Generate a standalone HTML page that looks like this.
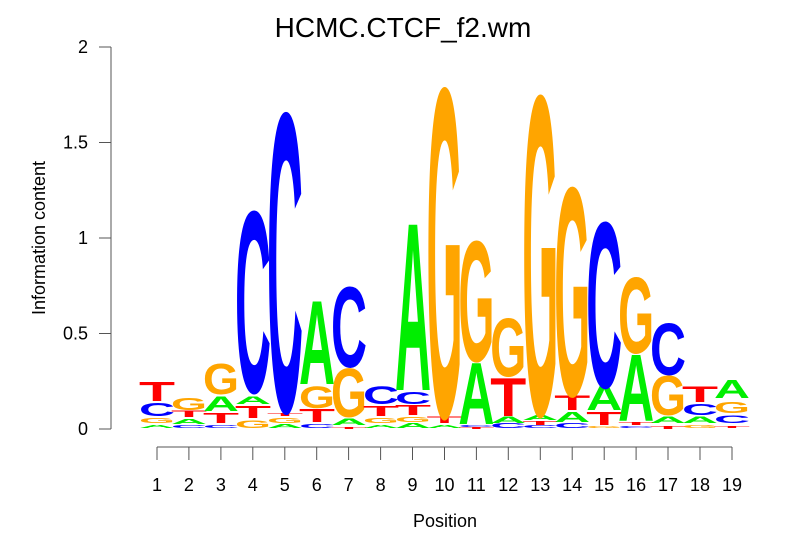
<!DOCTYPE html>
<html><head><meta charset="utf-8"><style>
body{margin:0;background:#fff;}
svg{display:block;font-family:"Liberation Sans",sans-serif;}
.l{font-family:"Liberation Sans",sans-serif;font-weight:bold;font-size:104px;}
</style></head><body>
<svg width="806" height="559" viewBox="0 0 806 559" xmlns="http://www.w3.org/2000/svg">
<rect width="806" height="559" fill="#fff"/>
<text x="403" y="37" text-anchor="middle" font-size="28">HCMC.CTCF_f2.wm</text>
<g stroke="#555" stroke-width="1" fill="none">
<path d="M111 47V429M99 47H111M99 142.5H111M99 238H111M99 333.5H111M99 429H111"/>
<path d="M157 447H732"/>
<path d="M157 447v13M188.9 447v13M220.9 447v13M252.8 447v13M284.8 447v13M316.7 447v13M348.6 447v13M380.6 447v13M412.5 447v13M444.5 447v13M476.4 447v13M508.3 447v13M540.3 447v13M572.2 447v13M604.2 447v13M636.1 447v13M668 447v13M700 447v13M732 447v13"/>
</g>
<g font-size="18" text-anchor="end">
<text x="88" y="435">0</text><text x="88" y="339.5">0.5</text><text x="88" y="244">1</text><text x="88" y="148.5">1.5</text><text x="88" y="53">2</text>
</g>
<text transform="translate(45 238) rotate(-90)" text-anchor="middle" font-size="18">Information content</text>
<g font-size="18" text-anchor="middle">
<text x="157" y="491">1</text><text x="188.9" y="491">2</text><text x="220.9" y="491">3</text><text x="252.8" y="491">4</text><text x="284.8" y="491">5</text><text x="316.7" y="491">6</text><text x="348.6" y="491">7</text><text x="380.6" y="491">8</text><text x="412.5" y="491">9</text><text x="444.5" y="491">10</text><text x="476.4" y="491">11</text><text x="508.3" y="491">12</text><text x="540.3" y="491">13</text><text x="572.2" y="491">14</text><text x="604.2" y="491">15</text><text x="636.1" y="491">16</text><text x="668" y="491">17</text><text x="700" y="491">18</text><text x="732" y="491">19</text>
</g>
<text x="445" y="527" text-anchor="middle" font-size="18">Position</text>
<g class="l">
<text transform="translate(139 428) scale(1 0.042)" textLength="36" lengthAdjust="spacingAndGlyphs" fill="#00ee00">A</text>
<text transform="translate(139 423) scale(1 0.07)" textLength="36" lengthAdjust="spacingAndGlyphs" fill="#ffa500">G</text>
<text transform="translate(139 416) scale(1 0.18)" textLength="36" lengthAdjust="spacingAndGlyphs" fill="#0000ff">C</text>
<text transform="translate(139 401) scale(1 0.265)" textLength="36" lengthAdjust="spacingAndGlyphs" fill="#ff0000">T</text>
<text transform="translate(171 428) scale(1 0.042)" textLength="36" lengthAdjust="spacingAndGlyphs" fill="#0000ff">C</text>
<text transform="translate(171 424) scale(1 0.07)" textLength="36" lengthAdjust="spacingAndGlyphs" fill="#00ee00">A</text>
<text transform="translate(171 417) scale(1 0.084)" textLength="36" lengthAdjust="spacingAndGlyphs" fill="#ff0000">T</text>
<text transform="translate(171 410) scale(1 0.167)" textLength="36" lengthAdjust="spacingAndGlyphs" fill="#ffa500">G</text>
<text transform="translate(203 428) scale(1 0.042)" textLength="36" lengthAdjust="spacingAndGlyphs" fill="#0000ff">C</text>
<text transform="translate(203 423) scale(1 0.14)" textLength="36" lengthAdjust="spacingAndGlyphs" fill="#ff0000">T</text>
<text transform="translate(203 411) scale(1 0.2)" textLength="36" lengthAdjust="spacingAndGlyphs" fill="#00ee00">A</text>
<text transform="translate(203 394) scale(1 0.42)" textLength="36" lengthAdjust="spacingAndGlyphs" fill="#ffa500">G</text>
<text transform="translate(235 428) scale(1 0.11)" textLength="36" lengthAdjust="spacingAndGlyphs" fill="#ffa500">G</text>
<text transform="translate(235 418) scale(1 0.167)" textLength="36" lengthAdjust="spacingAndGlyphs" fill="#ff0000">T</text>
<text transform="translate(235 404) scale(1 0.11)" textLength="36" lengthAdjust="spacingAndGlyphs" fill="#00ee00">A</text>
<text transform="translate(235 392) scale(1 2.5)" textLength="36" lengthAdjust="spacingAndGlyphs" fill="#0000ff">C</text>
<text transform="translate(267 428) scale(1 0.056)" textLength="36" lengthAdjust="spacingAndGlyphs" fill="#00ee00">A</text>
<text transform="translate(267 423) scale(1 0.07)" textLength="36" lengthAdjust="spacingAndGlyphs" fill="#ffa500">G</text>
<text transform="translate(267 416) scale(1 0.042)" textLength="36" lengthAdjust="spacingAndGlyphs" fill="#ff0000">T</text>
<text transform="translate(267 411) scale(1 4.12)" textLength="36" lengthAdjust="spacingAndGlyphs" fill="#0000ff">C</text>
<text transform="translate(299 428) scale(1 0.056)" textLength="36" lengthAdjust="spacingAndGlyphs" fill="#0000ff">C</text>
<text transform="translate(299 422) scale(1 0.18)" textLength="36" lengthAdjust="spacingAndGlyphs" fill="#ff0000">T</text>
<text transform="translate(299 408) scale(1 0.3)" textLength="36" lengthAdjust="spacingAndGlyphs" fill="#ffa500">G</text>
<text transform="translate(299 384) scale(1 1.15)" textLength="36" lengthAdjust="spacingAndGlyphs" fill="#00ee00">A</text>
<text transform="translate(331 429) scale(1 0.028)" textLength="36" lengthAdjust="spacingAndGlyphs" fill="#ff0000">T</text>
<text transform="translate(331 425) scale(1 0.084)" textLength="36" lengthAdjust="spacingAndGlyphs" fill="#00ee00">A</text>
<text transform="translate(331 417) scale(1 0.67)" textLength="36" lengthAdjust="spacingAndGlyphs" fill="#ffa500">G</text>
<text transform="translate(331 367) scale(1 1.11)" textLength="36" lengthAdjust="spacingAndGlyphs" fill="#0000ff">C</text>
<text transform="translate(363 428) scale(1 0.042)" textLength="36" lengthAdjust="spacingAndGlyphs" fill="#00ee00">A</text>
<text transform="translate(363 423) scale(1 0.07)" textLength="36" lengthAdjust="spacingAndGlyphs" fill="#ffa500">G</text>
<text transform="translate(363 416) scale(1 0.14)" textLength="36" lengthAdjust="spacingAndGlyphs" fill="#ff0000">T</text>
<text transform="translate(363 404) scale(1 0.24)" textLength="36" lengthAdjust="spacingAndGlyphs" fill="#0000ff">C</text>
<text transform="translate(395 428) scale(1 0.07)" textLength="36" lengthAdjust="spacingAndGlyphs" fill="#00ee00">A</text>
<text transform="translate(395 422) scale(1 0.07)" textLength="36" lengthAdjust="spacingAndGlyphs" fill="#ffa500">G</text>
<text transform="translate(395 415) scale(1 0.14)" textLength="36" lengthAdjust="spacingAndGlyphs" fill="#ff0000">T</text>
<text transform="translate(395 404) scale(1 0.17)" textLength="36" lengthAdjust="spacingAndGlyphs" fill="#0000ff">C</text>
<text transform="translate(395 390) scale(1 2.31)" textLength="36" lengthAdjust="spacingAndGlyphs" fill="#00ee00">A</text>
<text transform="translate(426.5 428) scale(1 0.042)" textLength="36" lengthAdjust="spacingAndGlyphs" fill="#00ee00">A</text>
<text transform="translate(426.5 423) scale(1 0.084)" textLength="36" lengthAdjust="spacingAndGlyphs" fill="#ff0000">T</text>
<text transform="translate(426.5 416) scale(1 4.53)" textLength="36" lengthAdjust="spacingAndGlyphs" fill="#ffa500">G</text>
<text transform="translate(458.4 429) scale(1 0.028)" textLength="36" lengthAdjust="spacingAndGlyphs" fill="#ff0000">T</text>
<text transform="translate(458.4 427) scale(1 0.028)" textLength="36" lengthAdjust="spacingAndGlyphs" fill="#0000ff">C</text>
<text transform="translate(458.4 424) scale(1 0.85)" textLength="36" lengthAdjust="spacingAndGlyphs" fill="#00ee00">A</text>
<text transform="translate(458.4 361) scale(1 1.66)" textLength="36" lengthAdjust="spacingAndGlyphs" fill="#ffa500">G</text>
<text transform="translate(490.3 428) scale(1 0.07)" textLength="36" lengthAdjust="spacingAndGlyphs" fill="#0000ff">C</text>
<text transform="translate(490.3 423) scale(1 0.084)" textLength="36" lengthAdjust="spacingAndGlyphs" fill="#00ee00">A</text>
<text transform="translate(490.3 416) scale(1 0.53)" textLength="36" lengthAdjust="spacingAndGlyphs" fill="#ff0000">T</text>
<text transform="translate(490.3 376) scale(1 0.8)" textLength="36" lengthAdjust="spacingAndGlyphs" fill="#ffa500">G</text>
<text transform="translate(522.3 428) scale(1 0.042)" textLength="36" lengthAdjust="spacingAndGlyphs" fill="#0000ff">C</text>
<text transform="translate(522.3 425) scale(1 0.056)" textLength="36" lengthAdjust="spacingAndGlyphs" fill="#ff0000">T</text>
<text transform="translate(522.3 420) scale(1 0.07)" textLength="36" lengthAdjust="spacingAndGlyphs" fill="#00ee00">A</text>
<text transform="translate(522.3 414) scale(1 4.4)" textLength="36" lengthAdjust="spacingAndGlyphs" fill="#ffa500">G</text>
<text transform="translate(554.2 428) scale(1 0.07)" textLength="36" lengthAdjust="spacingAndGlyphs" fill="#0000ff">C</text>
<text transform="translate(554.2 422) scale(1 0.14)" textLength="36" lengthAdjust="spacingAndGlyphs" fill="#00ee00">A</text>
<text transform="translate(554.2 410) scale(1 0.2)" textLength="36" lengthAdjust="spacingAndGlyphs" fill="#ff0000">T</text>
<text transform="translate(554.2 395) scale(1 2.87)" textLength="36" lengthAdjust="spacingAndGlyphs" fill="#ffa500">G</text>
<text transform="translate(586.2 428) scale(1 0.028)" textLength="36" lengthAdjust="spacingAndGlyphs" fill="#ffa500">G</text>
<text transform="translate(586.2 425) scale(1 0.18)" textLength="36" lengthAdjust="spacingAndGlyphs" fill="#ff0000">T</text>
<text transform="translate(586.2 410) scale(1 0.335)" textLength="36" lengthAdjust="spacingAndGlyphs" fill="#00ee00">A</text>
<text transform="translate(586.2 387) scale(1 2.28)" textLength="36" lengthAdjust="spacingAndGlyphs" fill="#0000ff">C</text>
<text transform="translate(618.1 428) scale(1 0.028)" textLength="36" lengthAdjust="spacingAndGlyphs" fill="#0000ff">C</text>
<text transform="translate(618.1 425) scale(1 0.042)" textLength="36" lengthAdjust="spacingAndGlyphs" fill="#ff0000">T</text>
<text transform="translate(618.1 421) scale(1 0.92)" textLength="36" lengthAdjust="spacingAndGlyphs" fill="#00ee00">A</text>
<text transform="translate(618.1 353) scale(1 1.04)" textLength="36" lengthAdjust="spacingAndGlyphs" fill="#ffa500">G</text>
<text transform="translate(650 429) scale(1 0.042)" textLength="36" lengthAdjust="spacingAndGlyphs" fill="#ff0000">T</text>
<text transform="translate(650 423) scale(1 0.084)" textLength="36" lengthAdjust="spacingAndGlyphs" fill="#00ee00">A</text>
<text transform="translate(650 415) scale(1 0.545)" textLength="36" lengthAdjust="spacingAndGlyphs" fill="#ffa500">G</text>
<text transform="translate(650 375) scale(1 0.71)" textLength="36" lengthAdjust="spacingAndGlyphs" fill="#0000ff">C</text>
<text transform="translate(682 428) scale(1 0.042)" textLength="36" lengthAdjust="spacingAndGlyphs" fill="#ffa500">G</text>
<text transform="translate(682 423) scale(1 0.084)" textLength="36" lengthAdjust="spacingAndGlyphs" fill="#00ee00">A</text>
<text transform="translate(682 415) scale(1 0.155)" textLength="36" lengthAdjust="spacingAndGlyphs" fill="#0000ff">C</text>
<text transform="translate(682 402) scale(1 0.21)" textLength="36" lengthAdjust="spacingAndGlyphs" fill="#ff0000">T</text>
<text transform="translate(714 428) scale(1 0.028)" textLength="36" lengthAdjust="spacingAndGlyphs" fill="#ff0000">T</text>
<text transform="translate(714 423) scale(1 0.11)" textLength="36" lengthAdjust="spacingAndGlyphs" fill="#0000ff">C</text>
<text transform="translate(714 413) scale(1 0.155)" textLength="36" lengthAdjust="spacingAndGlyphs" fill="#ffa500">G</text>
<text transform="translate(714 398) scale(1 0.25)" textLength="36" lengthAdjust="spacingAndGlyphs" fill="#00ee00">A</text>
</g>
</svg>
</body></html>
